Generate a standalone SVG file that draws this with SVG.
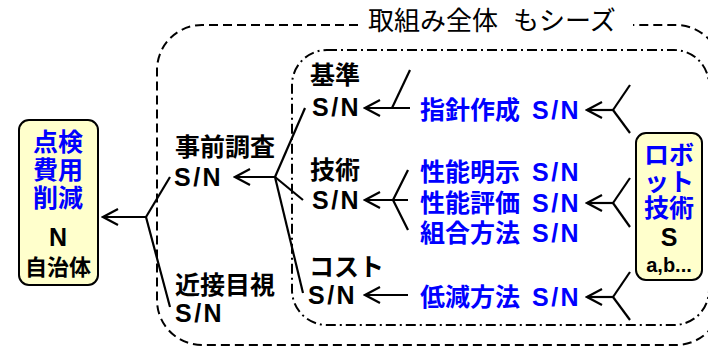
<svg xmlns="http://www.w3.org/2000/svg" width="708" height="346" viewBox="0 0 708 346">
<defs>
<style>
text{font-family:'Liberation Sans','Noto Sans CJK JP',sans-serif;font-weight:bold;font-size:25px;fill:#000}
.b{fill:#0000FF}
.sn{letter-spacing:2.5px}
.box{fill:#FFFFCC;stroke:#000;stroke-width:2}
.ln{fill:none;stroke:#000;stroke-width:2.2}
.ar{fill:none;stroke:#000;stroke-width:2.2;marker-end:url(#ah)}
.outer{fill:none;stroke:#000;stroke-width:2;stroke-dasharray:9 5}
.inner{fill:none;stroke:#000;stroke-width:2;stroke-dasharray:10 4 2 4}
.c{text-anchor:middle}
</style>
<marker id="ah" markerUnits="userSpaceOnUse" viewBox="-17 -10 19 20" markerWidth="19" markerHeight="20" refX="0" refY="0" orient="auto">
<path d="M-15,-8 L0,0 L-15,8" fill="none" stroke="#000" stroke-width="2.2"/>
</marker>
</defs>
<rect width="708" height="346" fill="#fff"/>

<g id="outer-scope">
<path class="outer" d="M358,25 H202 A45,45 0 0 0 157,70 V300 A45,45 0 0 0 202,345 H676 A45,45 0 0 0 721,300 V70 A45,45 0 0 0 676,25 H633"/>
<text x="368" y="30" style="font-weight:normal;font-size:26px">取組み全体 <tspan x="513">もシーズ</tspan></text>
</g>
<g id="inner-scope">
<rect class="inner" x="292" y="50" width="417" height="275" rx="35" ry="35"/>
</g>

<g id="connectors">
<line class="ar" x1="146" y1="217" x2="103" y2="217"/>
<line class="ln" x1="146" y1="217" x2="170" y2="177"/>
<line class="ln" x1="146" y1="217" x2="170" y2="307"/>

<line class="ar" x1="275" y1="177" x2="235" y2="177"/>
<line class="ln" x1="275" y1="177" x2="305" y2="108"/>
<line class="ln" x1="275" y1="177" x2="303" y2="200"/>
<line class="ln" x1="275" y1="177" x2="303" y2="293"/>

<line class="ar" x1="410" y1="108" x2="365" y2="108"/>
<line class="ln" x1="392" y1="108" x2="410" y2="70"/>

<line class="ar" x1="408" y1="200" x2="365" y2="200"/>
<line class="ln" x1="393" y1="200" x2="408" y2="170"/>
<line class="ln" x1="393" y1="200" x2="408" y2="230"/>

<line class="ar" x1="408" y1="295" x2="365" y2="295"/>

<line class="ar" x1="613" y1="110" x2="587" y2="110"/>
<line class="ln" x1="613" y1="110" x2="630" y2="85"/>
<line class="ln" x1="613" y1="110" x2="630" y2="133"/>

<line class="ar" x1="613" y1="203" x2="587" y2="203"/>
<line class="ln" x1="613" y1="203" x2="630" y2="178"/>
<line class="ln" x1="613" y1="203" x2="630" y2="227"/>

<line class="ar" x1="613" y1="297" x2="587" y2="297"/>
<line class="ln" x1="613" y1="297" x2="630" y2="272"/>
<line class="ln" x1="613" y1="297" x2="630" y2="320"/>
</g>

<g id="n-goal">
<rect class="box" x="19" y="120" width="79" height="165" rx="10" ry="10"/>
<text class="b c" x="58" y="151">点検</text>
<text class="b c" x="58" y="179">費用</text>
<text class="b c" x="58" y="207">削減</text>
<text class="c" x="58" y="246">N</text>
<text class="c" x="58" y="275" style="font-size:22px">自治体</text>
</g>

<g id="n-jizen">
<text x="175" y="156">事前調査</text>
<text class="sn" x="174" y="186">S/N</text>
</g>
<g id="n-kinsetsu">
<text x="175" y="294">近接目視</text>
<text class="sn" x="175" y="322">S/N</text>
</g>

<g id="n-kijun">
<text x="310" y="84">基準</text>
<text class="sn" x="312" y="116">S/N</text>
</g>
<g id="n-gijutsu">
<text x="310" y="179">技術</text>
<text class="sn" x="312" y="209">S/N</text>
</g>
<g id="n-cost">
<text x="309" y="276">コスト</text>
<text class="sn" x="308" y="304">S/N</text>
</g>

<g id="n-shishin"><text class="b" x="420" y="119">指針作成<tspan class="sn" x="532">S/N</tspan></text></g>
<g id="n-meiji"><text class="b" x="420" y="181">性能明示<tspan class="sn" x="532">S/N</tspan></text></g>
<g id="n-hyoka"><text class="b" x="420" y="212">性能評価<tspan class="sn" x="532">S/N</tspan></text></g>
<g id="n-kumiawase"><text class="b" x="420" y="242">組合方法<tspan class="sn" x="532">S/N</tspan></text></g>
<g id="n-teigen"><text class="b" x="420" y="306">低減方法<tspan class="sn" x="532">S/N</tspan></text></g>

<g id="n-robot">
<rect class="box" x="636" y="133" width="66" height="147" rx="10" ry="10"/>
<text class="b c" x="669" y="164">ロボ</text>
<text class="b c" x="669" y="191">ット</text>
<text class="b c" x="669" y="217">技術</text>
<text class="c" x="669" y="246">S</text>
<text class="c" x="669" y="272" style="font-size:20px">a,b...</text>
</g>
</svg>
